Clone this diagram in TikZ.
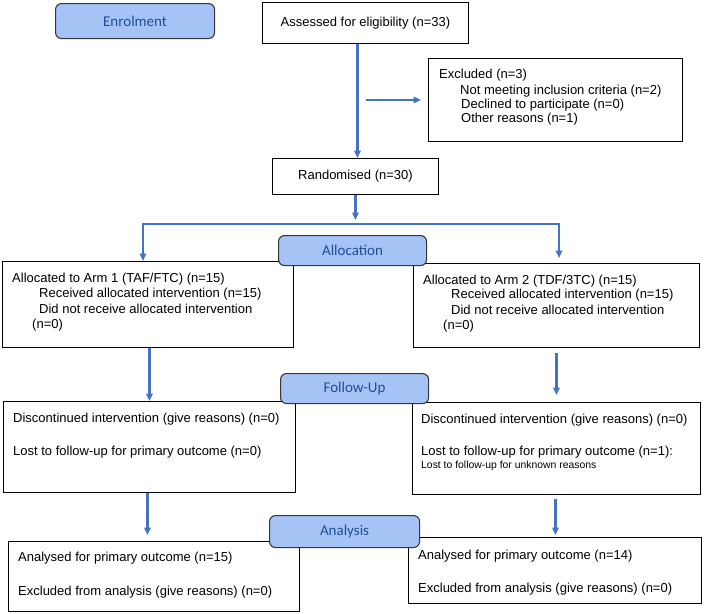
\documentclass[tikz,border=0pt]{standalone}
\usepackage{fontspec}
\setmainfont{Liberation Sans}
\newfontfamily\stagefont{Carlito}
\usetikzlibrary{arrows.meta}
\definecolor{arrowblue}{RGB}{68,114,196}
\definecolor{stagefill}{RGB}{166,195,245}
\definecolor{stagetext}{RGB}{31,78,150}
\definecolor{stageedge}{RGB}{55,55,55}
\tikzset{
  box/.style={draw=black, line width=0.9pt, fill=white, inner sep=0pt, anchor=north west},
  stagebox/.style={draw=stageedge, line width=1.1pt, fill=stagefill, rounded corners=6pt,
    inner sep=0pt, anchor=north west, font=\stagefont\fontsize{15}{18}\selectfont, text=stagetext},
  txt/.style={anchor=west, inner sep=0pt, font=\fontsize{13}{15}\selectfont},
  smalltxt/.style={anchor=west, inner sep=0pt, font=\fontsize{10.4}{12}\selectfont},
  ctxt/.style={inner sep=0pt, font=\fontsize{13}{15}\selectfont},
  arr/.style={draw=arrowblue, line width=2.4pt, -{Triangle[length=7.5pt,width=6.5pt]}},
  barr/.style={draw=arrowblue, line width=2.4pt, {Triangle[length=7.5pt,width=6.5pt]}-{Triangle[length=7.5pt,width=6.5pt]}}
}
\begin{document}
\begin{tikzpicture}[x=1pt,y=-1pt]
\useasboundingbox (0,0) rectangle (704,613);
% boxes
\node[box, minimum width=206pt, minimum height=41pt] (assess) at (262,2) {};
\node[box, minimum width=254pt, minimum height=83pt] (excl) at (428,58) {};
\node[box, minimum width=166pt, minimum height=36pt] (rand) at (272,158) {};
\node[box, minimum width=291pt, minimum height=86pt] (arm1) at (2,261) {};
\node[box, minimum width=286pt, minimum height=84pt] (arm2) at (413,263) {};
\node[box, minimum width=292pt, minimum height=91pt] (disc1) at (3,401) {};
\node[box, minimum width=288pt, minimum height=92pt] (disc2) at (412,402) {};
\node[box, minimum width=291pt, minimum height=70pt] (ana1) at (8,541) {};
\node[box, minimum width=293pt, minimum height=66pt] (ana2) at (408,537) {};
% stage boxes
\node[stagebox, minimum width=159pt, minimum height=35pt] (enrol) at (55,3) {Enrolment};
\node[stagebox, minimum width=148pt, minimum height=30pt] (alloc) at (278,235) {Allocation};
\node[stagebox, minimum width=148pt, minimum height=30pt] (fu) at (280,373) {Follow-Up};
\node[stagebox, minimum width=150pt, minimum height=32pt] (an) at (269,515) {Analysis};
% texts
\node[ctxt] (tassess) at (assess.center) {Assessed for eligibility (n=33)};
\node[ctxt] (trand) at (rand.center) {Randomised (n=30)};
\node[txt] (te1) at (439,75) {Excluded (n=3)};
\node[txt] (te2) at (460,91) {Not meeting inclusion criteria (n=2)};
\node[txt] (te3) at (461,105) {Declined to participate (n=0)};
\node[txt] (te4) at (461,119) {Other reasons (n=1)};
\node[txt] (ta11) at (12,279) {Allocated to Arm 1 (TAF/FTC) (n=15)};
\node[txt] (ta12) at (39,294) {Received allocated intervention (n=15)};
\node[txt] (ta13) at (39,309) {Did not receive allocated intervention};
\node[txt] (ta14) at (32,325) {(n=0)};
\node[txt] (ta21) at (423,281) {Allocated to Arm 2 (TDF/3TC) (n=15)};
\node[txt] (ta22) at (451,295) {Received allocated intervention (n=15)};
\node[txt] (ta23) at (451,310) {Did not receive allocated intervention};
\node[txt] (ta24) at (443,326) {(n=0)};
\node[txt] (td11) at (13,419) {Discontinued intervention (give reasons) (n=0)};
\node[txt] (td12) at (13,452) {Lost to follow-up for primary outcome (n=0)};
\node[txt] (td21) at (421,420) {Discontinued intervention (give reasons) (n=0)};
\node[txt] (td22) at (421,452) {Lost to follow-up for primary outcome (n=1):};
\node[smalltxt] (td23) at (421,466) {Lost to follow-up for unknown reasons};
\node[txt] (tn11) at (18,558) {Analysed for primary outcome (n=15)};
\node[txt] (tn12) at (18,592) {Excluded from analysis (give reasons) (n=0)};
\node[txt] (tn21) at (418,556) {Analysed for primary outcome (n=14)};
\node[txt] (tn22) at (418,589) {Excluded from analysis (give reasons) (n=0)};
% connectors
\draw[arr] ([xshift=2pt]rand.north |- assess.south) -- ([xshift=2pt]rand.north);
\draw[arr] ([xshift=-62pt]excl.west) -- ([xshift=-7pt]excl.west);
\coordinate (bl) at (143,224);
\coordinate (br) at (559,224);
\draw[arr] (rand.south) -- ([yshift=4pt]rand.south |- bl);
\draw[barr] (bl |- arm1.north) -- (bl) -- (br) -- ([yshift=5pt]br |- arm2.north);
\draw[arr] ([xshift=1.5pt]arm1.south) -- ([xshift=1.5pt]arm1.south |- disc1.north);
\draw[arr] ([yshift=-5pt]arm2.south) -- ([yshift=7pt]arm2.south |- disc2.north);
\draw[arr] ([xshift=-2pt]disc1.south) -- ([xshift=-2pt,yshift=6pt]disc1.south |- ana1.north);
\draw[arr] ([xshift=-1pt,yshift=-4pt]disc2.south) -- ([xshift=-1pt,yshift=2pt]disc2.south |- ana2.north);
\end{tikzpicture}
\end{document}
